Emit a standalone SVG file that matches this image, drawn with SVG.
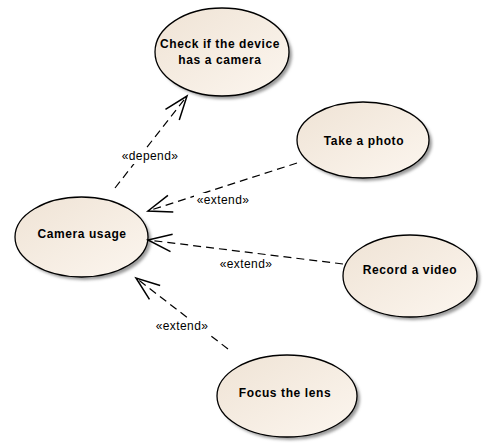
<svg xmlns="http://www.w3.org/2000/svg" width="497" height="446" viewBox="0 0 497 446">
<style>
.uc{stroke:#000;stroke-width:1.3;fill:url(#g)}
.sh{fill:#9a9a9a;filter:url(#blur)}
.lbl{font-family:"Liberation Sans",Arial,sans-serif;font-weight:bold;font-size:12px;letter-spacing:0.6px;fill:#000;text-anchor:middle}
.st{font-family:"Liberation Sans",Arial,sans-serif;font-size:12px;letter-spacing:0.4px;fill:#000;text-anchor:middle}
.bg{fill:#fff}
.dep{stroke:#000;stroke-width:1.2;fill:none;stroke-dasharray:8,5;marker-end:url(#open)}
</style>
<defs>
<linearGradient id="g" x1="0" y1="0" x2="1" y2="1">
<stop offset="0" stop-color="#efe3d5"/>
<stop offset="1" stop-color="#fcf6ef"/>
</linearGradient>
<filter id="blur" x="-20%" y="-20%" width="140%" height="140%"><feGaussianBlur stdDeviation="1.5"/></filter>
<marker id="open" markerUnits="userSpaceOnUse" markerWidth="30" markerHeight="30" viewBox="-22 -11 24 22" refX="0" refY="0" orient="auto">
<path d="M-19,-7 L0,0 L-19,7" fill="none" stroke="#000" stroke-width="1.2"/>
</marker>
</defs>
<rect width="497" height="446" fill="#fff"/>
<g id="check">
<ellipse class="sh" cx="225" cy="55" rx="67" ry="44"/>
<ellipse class="uc" cx="222" cy="52" rx="67" ry="44"/>
<text class="lbl" x="220" y="48">Check if the device</text>
<text class="lbl" x="220" y="64">has a camera</text>
</g>
<g id="camera">
<ellipse class="sh" cx="84.5" cy="240" rx="66.5" ry="40"/>
<ellipse class="uc" cx="81.5" cy="237" rx="66.5" ry="40"/>
<text class="lbl" x="82" y="238">Camera usage</text>
</g>
<g id="photo">
<ellipse class="sh" cx="366" cy="143" rx="66" ry="38"/>
<ellipse class="uc" cx="363" cy="140" rx="66" ry="38"/>
<text class="lbl" x="364" y="145">Take a photo</text>
</g>
<g id="video">
<ellipse class="sh" cx="413" cy="279" rx="67" ry="41"/>
<ellipse class="uc" cx="410" cy="276" rx="67" ry="41"/>
<text class="lbl" x="410" y="274">Record a video</text>
</g>
<g id="focus">
<ellipse class="sh" cx="290" cy="399" rx="70" ry="41"/>
<ellipse class="uc" cx="287" cy="396" rx="70" ry="41"/>
<text class="lbl" x="285" y="397">Focus the lens</text>
</g>
<g id="connectors">
<line class="dep" x1="115" y1="188" x2="187" y2="96"/>
<line class="dep" x1="297" y1="163" x2="148" y2="211"/>
<line class="dep" x1="343" y1="264" x2="148" y2="240"/>
<line class="dep" x1="228" y1="349" x2="136" y2="278"/>
<rect class="bg" x="119" y="149" width="63" height="15"/>
<rect class="bg" x="194" y="193" width="58" height="15"/>
<rect class="bg" x="153" y="319" width="58" height="15"/>
<text class="st" x="150" y="160">«depend»</text>
<text class="st" x="223" y="204">«extend»</text>
<text class="st" x="246" y="268">«extend»</text>
<text class="st" x="182" y="330">«extend»</text>
</g>
</svg>
